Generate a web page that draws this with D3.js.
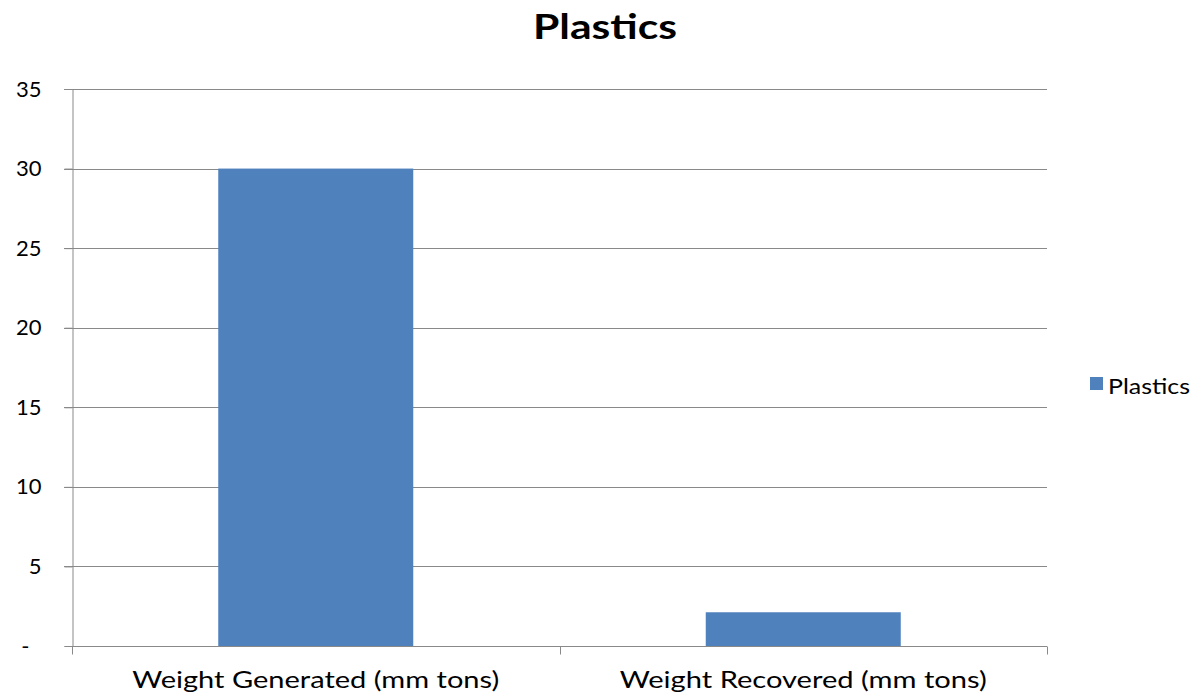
<!DOCTYPE html>
<html><head><meta charset="utf-8">
<script src="https://cdn.jsdelivr.net/npm/d3@7"></script>
<style>body{margin:0;background:#fff}svg{display:block}</style>
</head><body>
<script>
const categories = ["Weight Generated (mm tons)", "Weight Recovered (mm tons)"];
const values = [30.0, 2.12];
const yTicks = [0, 5, 10, 15, 20, 25, 30, 35];
const seriesName = "Plastics";
const title = "Plastics";

const W = 1196, H = 697;
const m = {left: 72, right: 149, top: 89, bottom: 51};
const font = "Lato, 'Open Sans', 'Liberation Sans', sans-serif";
const grid = "#898989";
const svg = d3.select("body").append("svg").attr("width", W).attr("height", H);

function fit(sel, w) {
  sel.attr("textLength", w).attr("lengthAdjust", "spacingAndGlyphs");
}

const x = d3.scaleBand().domain(categories).range([m.left, W - m.right]).padding(0);
const y = d3.scaleLinear().domain([0, 35]).range([H - m.bottom, m.top]);

// gridlines
svg.append("g").selectAll("line").data(yTicks.filter(d => d > 0)).join("line")
  .attr("x1", m.left - 8).attr("x2", W - m.right)
  .attr("y1", d => Math.round(y(d)) + 0.5).attr("y2", d => Math.round(y(d)) + 0.5)
  .attr("stroke", grid).attr("stroke-width", 1);

// bars
const bw = x.bandwidth() * 0.4;
svg.append("g").selectAll("rect").data(values).join("rect")
  .attr("x", (d, i) => x(categories[i]) + (x.bandwidth() - bw) / 2)
  .attr("width", bw)
  .attr("y", d => y(d))
  .attr("height", d => y(0) - y(d))
  .attr("fill", "#4f81bd");

// y axis
const yAxis = d3.axisLeft(y).tickValues(yTicks).tickSize(8).tickPadding(23)
  .tickFormat(d => d === 0 ? "-" : d);
const gy = svg.append("g").attr("transform", `translate(${m.left + 0.5},0)`).call(yAxis);
gy.select(".domain").attr("stroke", grid);
gy.selectAll(".tick line").attr("stroke", grid);
gy.selectAll(".tick text").attr("font-family", font).attr("font-size", 22).attr("fill", "#000")
  .filter(d => d === 0).attr("dx", -12);

// x axis
const gx = svg.append("g").attr("transform", `translate(0,${Math.round(y(0)) + 0.5})`);
gx.append("line").attr("x1", m.left).attr("x2", W - m.right).attr("stroke", grid);
const xTickPos = [m.left, ...categories.map(c => x(c) + x.bandwidth())];
gx.selectAll("line.t").data(xTickPos).join("line").attr("class", "t")
  .attr("x1", d => Math.round(d) + 0.5).attr("x2", d => Math.round(d) + 0.5)
  .attr("y1", 0).attr("y2", 8).attr("stroke", grid);
gx.selectAll("text").data(categories).join("text")
  .attr("x", d => x(d) + x.bandwidth() / 2).attr("y", 41)
  .attr("text-anchor", "middle").attr("font-family", font).attr("font-size", 24).attr("fill", "#000")
  .text(d => d).call(fit, 367);

// title
svg.append("text").attr("x", 605).attr("y", 39)
  .attr("text-anchor", "middle").attr("font-family", font).attr("font-weight", "bold")
  .attr("font-size", 34).attr("fill", "#000").text(title).call(fit, 144);

// legend
const lg = svg.append("g").attr("transform", "translate(1090,377)");
lg.append("rect").attr("width", 13).attr("height", 13).attr("fill", "#4f81bd");
lg.append("text").attr("x", 18).attr("y", 17).attr("font-family", font).attr("font-size", 22)
  .attr("fill", "#000").text(seriesName).call(fit, 82);
</script>
</body></html>
